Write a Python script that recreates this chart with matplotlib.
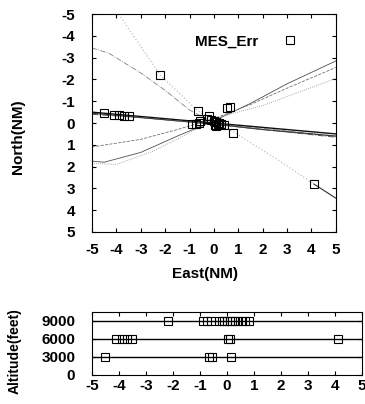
import matplotlib
matplotlib.use('Agg')
import matplotlib.pyplot as plt

plt.rcParams['font.family'] = ['Liberation Sans', 'DejaVu Sans']
plt.rcParams['axes.unicode_minus'] = False

# measured error points: east, north (NM), altitude (feet)
east = [-4.5, -4.1, -3.9, -3.7, -3.5, -2.2, -0.9, -0.75, -0.6, -0.65,
        -0.3, -0.2, -0.1, 0.0, 0.1, 0.2, 0.3, 0.4, 0.55, 0.65,
        0.05, 0.1, -0.55, 0.15, 0.8, 4.1]
north = [-0.45, -0.35, -0.35, -0.3, -0.3, -2.2, 0.05, 0.05, 0.0, -0.55,
         -0.2, -0.3, -0.15, -0.1, -0.05, 0.0, 0.05, 0.1, -0.7, -0.75,
         0.1, 0.15, -0.1, 0.05, 0.45, 2.8]
alt = [3000, 6000, 6000, 6000, 6000, 9000, 9000, 9000, 9000, 3000,
       9000, 9000, 9000, 9000, 9000, 9000, 9000, 9000, 9000, 9000,
       6000, 6000, 3000, 3000, 9000, 6000]

# fitted tracks (east, north)
track_a_e = [-3.9, -2.2, -0.7, 0.0, 0.8, 2.5, 4.1]
track_a_n = [-5.0, -2.2, -0.6, -0.1, 0.4, 1.6, 2.8]
track_a2_e = [4.1, 5.0]
track_a2_n = [2.8, 3.45]
track_b_e = [-5.0, -4.3, -3.0, -2.0, -1.0, 0.0, 2.0, 5.0]
track_b_n = [-3.45, -3.2, -2.3, -1.5, -0.6, 0.0, 0.25, 0.6]
track_c1_e = [-5.0, -4.5, -3.0, -1.5, 0.0, 1.5, 3.0, 5.0]
track_c1_n = [1.75, 1.8, 1.35, 0.6, -0.1, -0.9, -1.8, -2.85]
track_c2_e = [-5.0, -3.0, -1.5, 0.0, 1.5, 3.0, 5.0]
track_c2_n = [1.1, 0.75, 0.3, -0.2, -0.85, -1.6, -2.55]
track_c3_e = [-5.0, -4.0, -2.5, -1.0, 0.3, 2.0, 5.0]
track_c3_n = [1.85, 1.9, 1.3, 0.45, -0.3, -0.8, -2.05]
track_d1_e = [-5.0, -4.0, -2.0, 0.0, 2.0, 5.0]
track_d1_n = [-0.5, -0.4, -0.2, 0.0, 0.2, 0.5]
track_d2_e = [-5.0, -4.0, -2.0, 0.0, 2.0, 5.0]
track_d2_n = [-0.45, -0.35, -0.15, 0.05, 0.3, 0.6]
track_d3_e = [-5.0, -3.0, -1.0, 0.0, 2.0, 5.0]
track_d3_n = [-0.4, -0.25, -0.05, 0.05, 0.3, 0.65]

xticks = [-5, -4, -3, -2, -1, 0, 1, 2, 3, 4, 5]
alt_levels = [3000, 6000, 9000]
alt_ticks = [0, 3000, 6000, 9000]

FS = 11

fig = plt.figure(figsize=(3.65, 4.04), dpi=100)
ax = fig.add_axes([0.252, 0.426, 0.668, 0.539])

ax.plot(track_a_e, track_a_n, color='#b0b0b0', lw=0.8, ls=(0, (1, 2)))
ax.plot(track_a2_e, track_a2_n, color='#303030', lw=0.8)
ax.plot(track_b_e, track_b_n, color='#808080', lw=0.6, ls='-.')
ax.plot(track_c1_e, track_c1_n, color='#505050', lw=0.6, ls='-')
ax.plot(track_c2_e, track_c2_n, color='#707070', lw=0.6, ls='--')
ax.plot(track_c3_e, track_c3_n, color='#909090', lw=0.6, ls=(0, (1, 1.5)))
ax.plot(track_d1_e, track_d1_n, color='#101010', lw=1.0)
ax.plot(track_d2_e, track_d2_n, color='#303030', lw=0.8)
ax.plot(track_d3_e, track_d3_n, color='#505050', lw=0.7, ls='-.')

ax.plot(east, north, ls='none', marker='s', ms=6, mfc='none', mec='black',
        mew=0.8, label='MES_Err')

ax.set_xlim(-5, 5)
ax.set_ylim(5, -5)
ax.set_xticks(xticks)
ax.set_yticks(xticks)
ax.tick_params(direction='in', top=True, right=True, length=3, labelsize=FS)
ax.tick_params(axis='y', pad=12)
ax.tick_params(axis='x', pad=8)
for lab in ax.get_xticklabels() + ax.get_yticklabels():
    lab.set_fontweight('bold')
ax.set_xlabel('East(NM)', fontsize=FS, fontweight='bold')
ax.set_ylabel('North(NM)', fontsize=FS, fontweight='bold')
ax.xaxis.set_label_coords(0.465, -0.16)
ax.yaxis.set_label_coords(-0.275, 0.436)
for s in ax.spines.values():
    s.set_linewidth(0.8)
leg = ax.legend(loc='center right', bbox_to_anchor=(0.845, 0.875),
                frameon=False, markerfirst=False,
                prop={'size': FS, 'weight': 'bold'}, handlelength=1.0,
                handletextpad=1.6, borderaxespad=0.0, borderpad=0.0)

ax2 = fig.add_axes([0.252, 0.072, 0.740, 0.156])
for a in alt_levels:
    ax2.axhline(a, color='black', lw=1.0)
ax2.plot(east, alt, ls='none', marker='s', ms=6, mfc='none', mec='black',
         mew=0.8)
ax2.set_xlim(-5, 5)
ax2.set_ylim(0, 10500)
ax2.set_xticks(xticks)
ax2.set_yticks(alt_ticks)
ax2.tick_params(direction='in', top=True, right=True, length=3, labelsize=FS)
ax2.tick_params(axis='y', pad=12)
ax2.tick_params(axis='x', pad=3)
for lab in ax2.get_xticklabels() + ax2.get_yticklabels():
    lab.set_fontweight('bold')
ax2.set_ylabel('Altitude(feet)', fontsize=10, fontweight='bold')
ax2.yaxis.set_label_coords(-0.26, 0.38)
for s in ax2.spines.values():
    s.set_linewidth(0.8)

fig.savefig('out.png', dpi=100)
